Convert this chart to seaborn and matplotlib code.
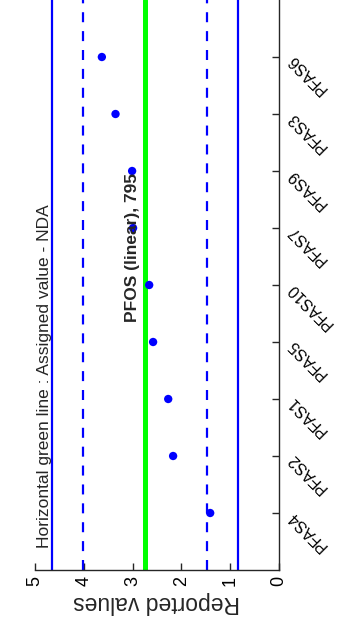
import matplotlib
matplotlib.use("Agg")
import numpy as np
import pandas as pd
import matplotlib.pyplot as plt
import seaborn as sns

# ---- data ----
labs = ["PFAS4", "PFAS2", "PFAS1", "PFAS5", "PFAS10", "PFAS7", "PFAS9", "PFAS3", "PFAS6"]
values = [1.41, 2.17, 2.27, 2.58, 2.66, 2.99, 3.01, 3.35, 3.63]
assigned = 2.75
warning_limits = [1.48, 4.02]
action_limits = [0.84, 4.66]
value_ticks = [0, 1, 2, 3, 4, 5]
title = "PFOS (linear), 795"
note = "Horizontal green line : Assigned value - NDA"
value_label = "Reported values"

sns.set_theme(style="white")
plt.rcParams["font.family"] = ["Liberation Sans", "DejaVu Sans"]

fig = plt.figure(figsize=(3.37, 6.3), dpi=100)
ax = fig.add_axes([35 / 337, 60 / 630, 244 / 337, 570 / 630])

df = pd.DataFrame({"lab": labs, "val": values, "pos": np.arange(1, len(labs) + 1)})

BLUE = "#0000ff"
for v in action_limits:
    ax.axvline(v, color=BLUE, lw=1.6, zorder=1)
for v in warning_limits:
    ax.axvline(v, color=BLUE, lw=1.6, ls=(0, (4.5, 4.0)), zorder=1)
ax.axvline(assigned, color="#00ff00", lw=3.6, zorder=1)

sns.scatterplot(data=df, x="val", y="pos", color=BLUE, s=36, edgecolor="none",
                ax=ax, zorder=3, legend=False)

ax.set_xlim(5, 0)
ax.set_ylim(0, 10)
ax.set_xticks(value_ticks)
ax.set_xticklabels([str(t) for t in value_ticks], rotation=90, fontsize=13)
ax.yaxis.tick_right()
ax.set_yticks(df["pos"])
ax.set_yticklabels(labs, fontsize=11.3)

for s in ["left", "top"]:
    ax.spines[s].set_visible(False)
for s in ["right", "bottom"]:
    ax.spines[s].set_visible(True)
    ax.spines[s].set_color("#262626")
    ax.spines[s].set_linewidth(1.0)
ax.tick_params(axis="both", direction="in", length=5, width=1, color="#262626",
               labelcolor="#000000")
ax.tick_params(axis="x", pad=4, bottom=True)
ax.tick_params(axis="y", pad=8, right=True, left=False)

for tk in ax.yaxis.get_major_ticks():
    for lab in (tk.label1, tk.label2):
        lab.set_rotation(135)
        lab.set_rotation_mode("anchor")
        lab.set_horizontalalignment("right")
        lab.set_verticalalignment("center")

ax.set_xlabel(value_label, rotation=180, fontsize=16.5, labelpad=4)
ax.set_ylabel("")

ax.text(3.01, 5.66, title, rotation=90, ha="center", va="center",
        fontsize=12.5, fontweight="bold")
ax.text(4.80, 0.39, note, rotation=90, ha="center", va="bottom", fontsize=12.5)

fig.savefig("out.png", dpi=100)
